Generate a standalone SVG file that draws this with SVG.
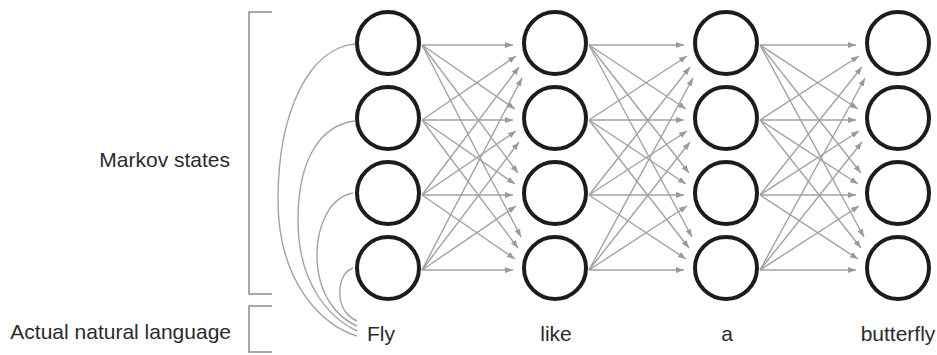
<svg xmlns="http://www.w3.org/2000/svg" width="937" height="355" viewBox="0 0 937 355">
  <style>
    .label { font-family: "Liberation Sans", Arial, sans-serif; font-size: 21px; fill: #2b2b2b; }
    .state { fill: #ffffff; stroke: #1c1c1c; stroke-width: 4; }
    .edge { stroke: #a2a2a2; stroke-width: 1.4; fill: none; marker-end: url(#arrow); }
    .link { stroke: #a2a2a2; stroke-width: 1.4; fill: none; }
    .bracket { stroke: #8c8c8c; stroke-width: 1.5; fill: none; }
  </style>
  <defs>
    <marker id="arrow" markerUnits="userSpaceOnUse" markerWidth="9" markerHeight="7" refX="8" refY="3" orient="auto">
      <path d="M0,0 L8,3 L0,6 z" fill="#9a9a9a"/>
    </marker>
  </defs>
  <rect width="937" height="355" fill="#ffffff"/>

  <!-- brackets grouping the two layers -->
  <g id="brackets">
    <path class="bracket" d="M272,12 H249 V294 H272"/>
    <path class="bracket" d="M272,306 H249 V352 H272"/>
  </g>

  <!-- side labels -->
  <g id="side-labels">
    <text class="label" x="230" y="167" text-anchor="end">Markov states</text>
    <text class="label" x="231" y="339" text-anchor="end">Actual natural language</text>
  </g>

  <!-- connectors: emission curves and state transitions -->
  <g id="connectors">
    <!-- curves from the first column of states to the word "Fly" -->
    <path class="link" d="M355,44 C310,48 278,110 278,200 C278,280 320,325 357,336"/>
    <path class="link" d="M355,121 C320,125 298,160 298,220 C298,285 330,318 357,331"/>
    <path class="link" d="M353,193 C330,197 317,225 317,255 C317,295 338,318 357,326"/>
    <path class="link" d="M353,268 C342,272 339,285 340,297 C341,310 350,318 357,321"/>

    <!-- column 1 to column 2 -->
    <line class="edge" x1="422" y1="45" x2="513" y2="45"/>
    <line class="edge" x1="422" y1="45" x2="515" y2="109"/>
    <line class="edge" x1="422" y1="45" x2="518" y2="173"/>
    <line class="edge" x1="422" y1="45" x2="521" y2="237"/>
    <line class="edge" x1="422" y1="120" x2="516" y2="56"/>
    <line class="edge" x1="422" y1="120" x2="513" y2="120"/>
    <line class="edge" x1="422" y1="120" x2="515" y2="184"/>
    <line class="edge" x1="422" y1="120" x2="518" y2="248"/>
    <line class="edge" x1="422" y1="195" x2="519" y2="67"/>
    <line class="edge" x1="422" y1="195" x2="516" y2="131"/>
    <line class="edge" x1="422" y1="195" x2="513" y2="195"/>
    <line class="edge" x1="422" y1="195" x2="515" y2="259"/>
    <line class="edge" x1="422" y1="270" x2="522" y2="78"/>
    <line class="edge" x1="422" y1="270" x2="519" y2="142"/>
    <line class="edge" x1="422" y1="270" x2="516" y2="206"/>
    <line class="edge" x1="422" y1="270" x2="513" y2="270"/>

    <!-- column 2 to column 3 -->
    <line class="edge" x1="589" y1="45" x2="684" y2="45"/>
    <line class="edge" x1="589" y1="45" x2="686" y2="109"/>
    <line class="edge" x1="589" y1="45" x2="689" y2="173"/>
    <line class="edge" x1="589" y1="45" x2="692" y2="237"/>
    <line class="edge" x1="589" y1="120" x2="687" y2="56"/>
    <line class="edge" x1="589" y1="120" x2="684" y2="120"/>
    <line class="edge" x1="589" y1="120" x2="686" y2="184"/>
    <line class="edge" x1="589" y1="120" x2="689" y2="248"/>
    <line class="edge" x1="589" y1="195" x2="690" y2="67"/>
    <line class="edge" x1="589" y1="195" x2="687" y2="131"/>
    <line class="edge" x1="589" y1="195" x2="684" y2="195"/>
    <line class="edge" x1="589" y1="195" x2="686" y2="259"/>
    <line class="edge" x1="589" y1="270" x2="693" y2="78"/>
    <line class="edge" x1="589" y1="270" x2="690" y2="142"/>
    <line class="edge" x1="589" y1="270" x2="687" y2="206"/>
    <line class="edge" x1="589" y1="270" x2="684" y2="270"/>

    <!-- column 3 to column 4 -->
    <line class="edge" x1="760" y1="45" x2="856" y2="45"/>
    <line class="edge" x1="760" y1="45" x2="858" y2="109"/>
    <line class="edge" x1="760" y1="45" x2="861" y2="173"/>
    <line class="edge" x1="760" y1="45" x2="864" y2="237"/>
    <line class="edge" x1="760" y1="120" x2="859" y2="56"/>
    <line class="edge" x1="760" y1="120" x2="856" y2="120"/>
    <line class="edge" x1="760" y1="120" x2="858" y2="184"/>
    <line class="edge" x1="760" y1="120" x2="861" y2="248"/>
    <line class="edge" x1="760" y1="195" x2="862" y2="67"/>
    <line class="edge" x1="760" y1="195" x2="859" y2="131"/>
    <line class="edge" x1="760" y1="195" x2="856" y2="195"/>
    <line class="edge" x1="760" y1="195" x2="858" y2="259"/>
    <line class="edge" x1="760" y1="270" x2="865" y2="78"/>
    <line class="edge" x1="760" y1="270" x2="862" y2="142"/>
    <line class="edge" x1="760" y1="270" x2="859" y2="206"/>
    <line class="edge" x1="760" y1="270" x2="856" y2="270"/>
  </g>

  <!-- state nodes -->
  <g id="s1-1"><circle class="state" cx="388" cy="43" r="31"/></g>
  <g id="s1-2"><circle class="state" cx="388" cy="118" r="31"/></g>
  <g id="s1-3"><circle class="state" cx="388" cy="193" r="31"/></g>
  <g id="s1-4"><circle class="state" cx="388" cy="268" r="31"/></g>

  <g id="s2-1"><circle class="state" cx="555" cy="43" r="31"/></g>
  <g id="s2-2"><circle class="state" cx="555" cy="118" r="31"/></g>
  <g id="s2-3"><circle class="state" cx="555" cy="193" r="31"/></g>
  <g id="s2-4"><circle class="state" cx="555" cy="268" r="31"/></g>

  <g id="s3-1"><circle class="state" cx="726" cy="43" r="31"/></g>
  <g id="s3-2"><circle class="state" cx="726" cy="118" r="31"/></g>
  <g id="s3-3"><circle class="state" cx="726" cy="193" r="31"/></g>
  <g id="s3-4"><circle class="state" cx="726" cy="268" r="31"/></g>

  <g id="s4-1"><circle class="state" cx="898" cy="43" r="31"/></g>
  <g id="s4-2"><circle class="state" cx="898" cy="118" r="31"/></g>
  <g id="s4-3"><circle class="state" cx="898" cy="193" r="31"/></g>
  <g id="s4-4"><circle class="state" cx="898" cy="268" r="31"/></g>

  <!-- observed words -->
  <g id="w-fly"><text class="label" x="367" y="341">Fly</text></g>
  <g id="w-like"><text class="label" x="556" y="341" text-anchor="middle">like</text></g>
  <g id="w-a"><text class="label" x="727" y="341" text-anchor="middle">a</text></g>
  <g id="w-butterfly"><text class="label" x="898" y="341" text-anchor="middle">butterfly</text></g>
</svg>
